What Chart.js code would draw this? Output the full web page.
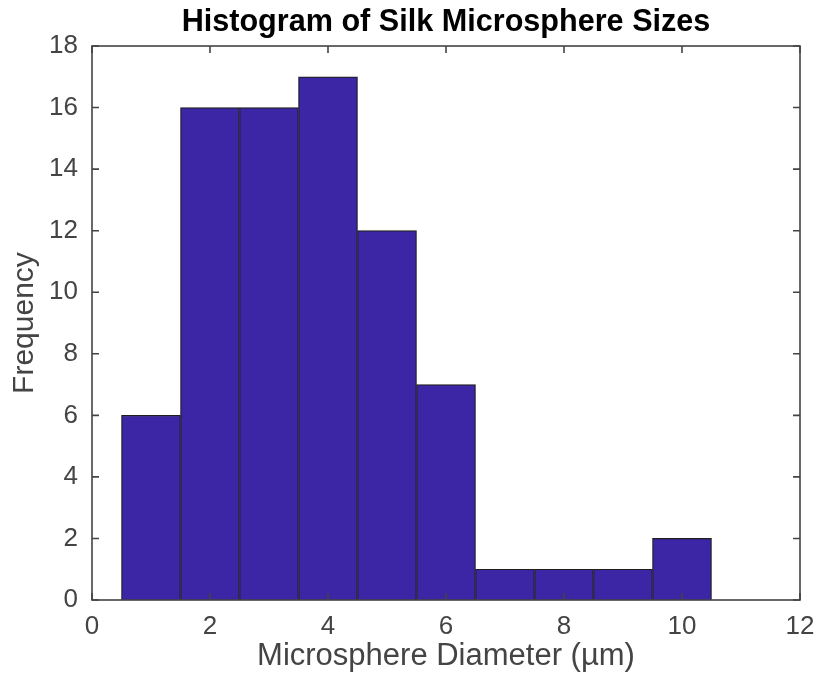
<!DOCTYPE html>
<html>
<head>
<meta charset="utf-8">
<script src="https://cdn.jsdelivr.net/npm/chart.js@4.4.1/dist/chart.umd.min.js"></script>
<style>
html,body{margin:0;padding:0;background:#fff;}
#wrap{width:822px;height:674px;}
</style>
</head>
<body>
<div id="wrap"><canvas id="c" width="822" height="674"></canvas></div>
<script>
const binCenters = [1, 2, 3, 4, 5, 6, 7, 8, 9, 10];
const frequencies = [6, 16, 16, 17, 12, 7, 1, 1, 1, 2];
const xTicks = [0, 2, 4, 6, 8, 10, 12];
const yTicks = [0, 2, 4, 6, 8, 10, 12, 14, 16, 18];

const FONT = "'Liberation Sans', Arial, Helvetica, sans-serif";
const AXIS_COLOR = '#444444';

const boxTicks = {
  id: 'boxTicks',
  afterDatasetsDraw(chart) {
    const {ctx, chartArea: a, scales} = chart;
    const xs = scales.x, ys = scales.y;
    const L = 7;
    ctx.save();
    ctx.strokeStyle = AXIS_COLOR;
    ctx.lineWidth = 1.6;
    ctx.beginPath();
    xTicks.forEach(v => {
      const px = xs.getPixelForValue(v);
      ctx.moveTo(px, a.bottom); ctx.lineTo(px, a.bottom - L);
      ctx.moveTo(px, a.top); ctx.lineTo(px, a.top + L);
    });
    yTicks.forEach(v => {
      const py = ys.getPixelForValue(v);
      ctx.moveTo(a.left, py); ctx.lineTo(a.left + L, py);
      ctx.moveTo(a.right, py); ctx.lineTo(a.right - L, py);
    });
    ctx.stroke();
    ctx.strokeRect(a.left, a.top, a.right - a.left, a.bottom - a.top);
    ctx.restore();
  }
};

new Chart(document.getElementById('c'), {
  type: 'bar',
  data: {
    datasets: [{
      data: binCenters.map((c, i) => ({x: c, y: frequencies[i]})),
      backgroundColor: 'rgb(60,38,166)',
      borderColor: '#1e1e1e',
      borderWidth: 1.2,
      barPercentage: 1,
      categoryPercentage: 1
    }]
  },
  options: {
    responsive: false,
    animation: false,
    layout: {padding: {top: 0, right: 22, bottom: 0, left: 0}},
    plugins: {
      legend: {display: false},
      tooltip: {enabled: false},
      title: {
        display: true,
        fullSize: false,
        text: 'Histogram of Silk Microsphere Sizes',
        color: '#000',
        font: {family: FONT, size: 30.6, weight: 'bold', lineHeight: 1.2},
        padding: {top: 4, bottom: 5.3}
      }
    },
    scales: {
      x: {
        type: 'linear',
        offset: false,
        min: 0, max: 12,
        afterBuildTicks: s => { s.ticks = xTicks.map(v => ({value: v})); },
        afterFit: s => { s.height = 74; s.paddingLeft = 0; s.paddingRight = 0; },
        grid: {display: false, drawTicks: false, offset: false},
        border: {display: false},
        ticks: {color: AXIS_COLOR, font: {family: FONT, size: 26}, padding: 11, maxRotation: 0},
        title: {display: true, text: 'Microsphere Diameter (µm)', color: AXIS_COLOR,
                font: {family: FONT, size: 31, lineHeight: 1.1}, padding: {top: 0, bottom: 0}}
      },
      y: {
        type: 'linear',
        min: 0, max: 18,
        afterBuildTicks: s => { s.ticks = yTicks.map(v => ({value: v})); },
        afterFit: s => { s.width = 92; },
        grid: {display: false, drawTicks: false},
        border: {display: false},
        ticks: {color: AXIS_COLOR, font: {family: FONT, size: 26}, padding: 14},
        title: {display: true, text: 'Frequency', color: AXIS_COLOR,
                font: {family: FONT, size: 30, lineHeight: 1.2}, padding: {top: 7, bottom: 0}}
      }
    }
  },
  plugins: [boxTicks]
});
</script>
</body>
</html>
